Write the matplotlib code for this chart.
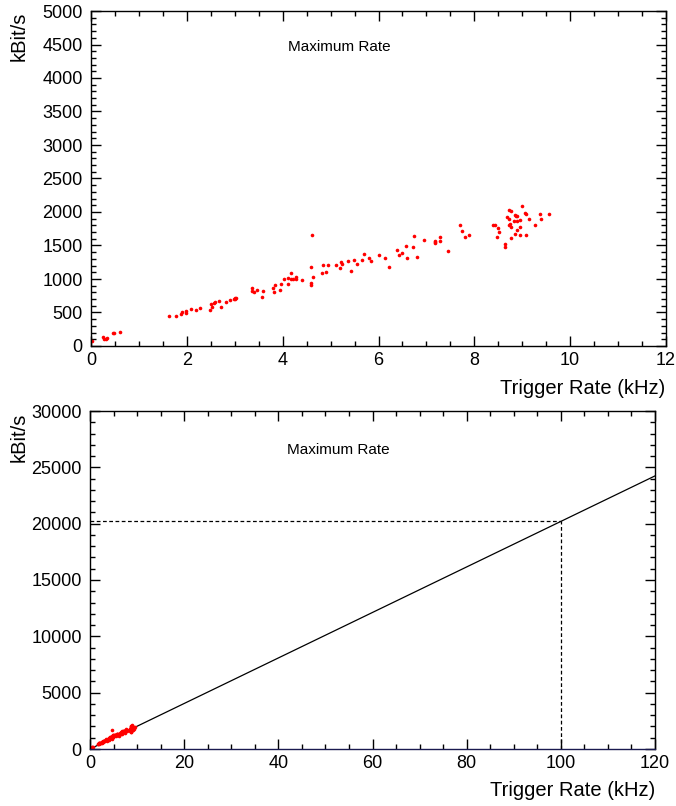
import matplotlib
matplotlib.use("Agg")
import matplotlib.pyplot as plt
from matplotlib.ticker import MultipleLocator
import numpy as np

plt.rcParams['font.family'] = ['Liberation Sans', 'DejaVu Sans']

# Trigger rate (kHz) and data rate (kBit/s)
trigger_khz = [
    0.02, 0.24, 0.27, 0.31, 0.33, 0.46, 0.47, 0.61,
    1.63, 1.77, 1.88, 1.89, 1.98, 1.99, 2.09, 2.20, 2.28,
    2.49, 2.51, 2.53, 2.56, 2.59, 2.67, 2.71, 2.81, 2.91,
    2.98, 3.00, 3.01, 3.02,
    3.36, 3.36, 3.40, 3.47, 3.58, 3.57, 3.79, 3.84, 3.82, 3.96, 3.95,
    4.03, 4.11, 4.11, 4.18, 4.18, 4.22, 4.28, 4.28, 4.40,
    4.61, 4.60, 4.59, 4.59, 4.63, 4.83, 4.85, 4.91, 4.94,
    5.11, 5.19, 5.22, 5.23, 5.37, 5.43, 5.49, 5.56, 5.65, 5.69,
    5.81, 5.85, 6.01, 6.14, 6.21, 6.39, 6.42, 6.48, 6.57, 6.59,
    6.71, 6.75, 6.80, 6.94, 7.18, 7.18, 7.18, 7.28, 7.29, 7.44,
    7.71, 7.74, 7.81, 7.88,
    8.39, 8.44, 8.49, 8.52, 8.47, 8.65, 8.65,
    8.69, 8.73, 8.76, 8.72, 8.75, 8.72, 8.77, 8.76,
    8.82, 8.89, 8.84, 8.87, 8.90, 8.85, 8.89,
    8.96, 8.96, 8.96, 9.00, 9.05, 9.08, 9.14, 9.08,
    9.26, 9.37, 9.40, 9.55,
]
data_kbits = [
    80, 130, 109, 104, 115, 190, 199, 209,
    448, 448, 478, 508, 497, 518, 548, 537, 563,
    537, 627, 578, 637, 652, 672, 587, 657, 682,
    697, 717, 707, 712,
    870, 826, 811, 832, 821, 727, 861, 906, 802, 921, 831,
    996, 1015, 926, 1094, 996, 996, 1035, 1005, 985,
    1657, 1184, 945, 906, 1026, 1084, 1205, 1100, 1205,
    1205, 1160, 1250, 1220, 1274, 1115, 1280, 1229, 1289, 1369,
    1319, 1269, 1363, 1309, 1175, 1433, 1363, 1389, 1489, 1309,
    1478, 1642, 1329, 1587, 1572, 1542, 1557, 1632, 1562, 1414,
    1806, 1712, 1632, 1652,
    1802, 1802, 1766, 1698, 1632, 1527, 1478,
    1922, 2026, 2011, 1891, 1826, 1806, 1777, 1617,
    1862, 1862, 1956, 1945, 1945, 1677, 1737,
    1881, 1777, 1657, 2086, 1990, 1971, 1896, 1657,
    1811, 1976, 1891, 1966,
]

fit_slope = 202.0   # kBit/s per kHz (linear extrapolation)
target_rate = 100   # kHz

W, H = 676, 806
fig = plt.figure(figsize=(W / 100, H / 100), dpi=100)

def frac_box(x0, y0, x1, y1):
    return [x0 / W, 1 - y1 / H, (x1 - x0) / W, (y1 - y0) / H]

ax1 = fig.add_axes(frac_box(91, 11, 666, 346))
ax2 = fig.add_axes(frac_box(90, 411, 655, 749))

def style(ax, xmaj, xmin, ymaj, ymin):
    ax.xaxis.set_major_locator(MultipleLocator(xmaj))
    ax.xaxis.set_minor_locator(MultipleLocator(xmin))
    ax.yaxis.set_major_locator(MultipleLocator(ymaj))
    ax.yaxis.set_minor_locator(MultipleLocator(ymin))
    ax.tick_params(which='both', direction='in', top=True, right=True,
                   labelsize=13, width=1.0)
    ax.tick_params(which='major', length=7.0)
    ax.tick_params(which='minor', length=3.5)
    ax.tick_params(axis='y', pad=6)
    ax.tick_params(axis='x', pad=4)
    for s in ax.spines.values():
        s.set_linewidth(1.0)

x = np.array(trigger_khz)
y = np.array(data_kbits)

# Top panel
ax1.plot(x, y, 'o', color='red', ms=2.6, mec='red', mew=0)
ax1.set_xlim(0, 12)
ax1.set_ylim(0, 5000)
style(ax1, 2, 0.5, 500, 100)
ax1.text(0.432, 0.893, 'Maximum Rate', transform=ax1.transAxes,
         ha='center', va='center', fontsize=11)

# Bottom panel
xl = np.array([0, 120])
ax2.plot(xl, fit_slope * xl, '-', color='black', lw=0.9)
yt = fit_slope * target_rate
ax2.plot([0, target_rate], [yt, yt], color='black', lw=0.9, ls=(0, (3, 2)))
ax2.plot([target_rate, target_rate], [0, yt], color='black', lw=0.9, ls=(0, (3, 2)))
ax2.plot(x, y, 'o', color='red', ms=2.6, mec='red', mew=0)
ax2.set_xlim(0, 120)
ax2.set_ylim(0, 30000)
style(ax2, 20, 5, 5000, 1000)
ax2.spines['bottom'].set_color('#1a1a50')
ax2.text(0.44, 0.885, 'Maximum Rate', transform=ax2.transAxes,
         ha='center', va='center', fontsize=11)

# Axis titles (ROOT style: aligned to axis ends)
fig.text(19 / W, 1 - 12 / H, 'kBit/s', rotation=90, ha='center', va='top', fontsize=14.5)
fig.text(665 / W, 1 - 388 / H, 'Trigger Rate (kHz)', ha='right', va='center', fontsize=14.5)
fig.text(19 / W, 1 - 413 / H, 'kBit/s', rotation=90, ha='center', va='top', fontsize=14.5)
fig.text(655 / W, 1 - 791 / H, 'Trigger Rate (kHz)', ha='right', va='center', fontsize=14.5)

fig.savefig('out.png', dpi=100)
